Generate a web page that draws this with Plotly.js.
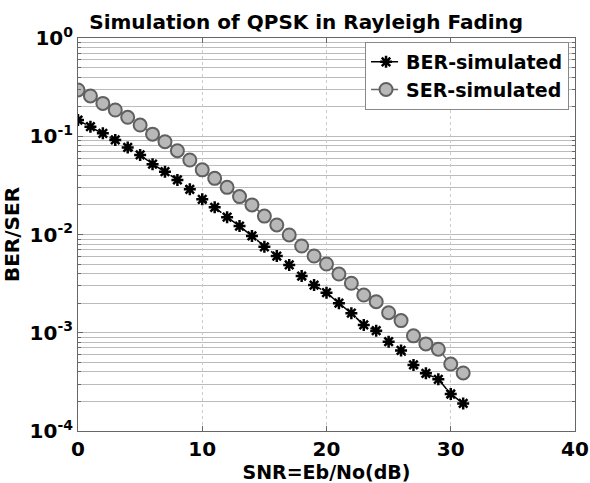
<!DOCTYPE html>
<html>
<head>
<meta charset="utf-8">
<script src="https://cdn.plot.ly/plotly-3.0.1.min.js"></script>
<style>html,body{margin:0;padding:0;background:#fff;}#chart{width:590px;height:483px;}</style>
</head>
<body>
<div id="chart"></div>
<script>
const snr = [0,1,2,3,4,5,6,7,8,9,10,11,12,13,14,15,16,17,18,19,20,21,22,23,24,25,26,27,28,29,30,31];
const berSimulated = [0.146,0.125,0.107,0.0916,0.077,0.0645,0.052,0.0436,0.0359,0.0288,0.0228,0.0189,0.0150,0.0122,0.00966,0.0075,0.00604,0.0049,0.00378,0.00306,0.00256,0.0020,0.00158,0.0012,0.00105,0.00081,0.00066,0.00047,0.000386,0.000336,0.000238,0.000191];
const serSimulated = [0.296,0.257,0.216,0.185,0.156,0.130,0.105,0.088,0.0713,0.0573,0.0455,0.0373,0.0302,0.0243,0.0200,0.0154,0.0125,0.00989,0.00764,0.00604,0.00501,0.00396,0.00319,0.00242,0.00207,0.0016,0.00133,0.00093,0.00077,0.00068,0.00048,0.00039];
const xTicks = [0,10,20,30,40];
const yMajor = [1e-4,1e-3,1e-2,1e-1,1];
const yMajorLabels = ['10<sup>-4</sup>','10<sup>-3</sup>','10<sup>-2</sup>','10<sup>-1</sup>','10<sup>0</sup>'];

const yMinor = [];
for (let e = -4; e < 0; e++) {
  for (let m = 2; m <= 9; m++) yMinor.push(m * Math.pow(10, e));
}

const fam = 'DejaVu Sans, Arial, sans-serif';
const f = (size) => ({family: fam, color: '#000', weight: 'bold', size: size});

const traces = [
  {
    x: snr, y: berSimulated, name: 'BER-simulated', type: 'scatter', mode: 'lines+markers',
    line: {color: '#000', width: 1.5, dash: 'dash'},
    marker: {symbol: 'asterisk-open', size: 10, color: '#000', line: {color: '#000', width: 2.5}}
  },
  {
    x: snr, y: serSimulated, name: 'SER-simulated', type: 'scatter', mode: 'lines+markers',
    line: {color: '#666', width: 1.5, dash: 'dash'},
    marker: {symbol: 'circle', size: 13, color: '#b8b8b8', line: {color: '#606060', width: 2}}
  }
];

const layout = {
  width: 590, height: 483,
  margin: {l: 78, r: 15, t: 38, b: 52},
  paper_bgcolor: '#fff', plot_bgcolor: '#fff',
  font: f(18),
  title: {text: 'Simulation of QPSK in Rayleigh Fading', xref: 'container', x: 0.519, xanchor: 'center',
          yref: 'container', y: 0.955, yanchor: 'middle', font: f(20)},
  showlegend: true,
  legend: {x: 0.988, y: 0.99, xanchor: 'right', yanchor: 'top', bgcolor: '#fff', bordercolor: '#888', borderwidth: 1,
           font: f(19), tracegroupgap: 0, itemwidth: 30},
  xaxis: {
    range: [0, 40], tickmode: 'array', tickvals: xTicks, ticktext: xTicks.map(String),
    showline: true, linecolor: '#666', linewidth: 1, mirror: 'ticks',
    ticks: 'inside', ticklen: 5, tickcolor: '#666',
    showgrid: true, gridcolor: '#ccc', griddash: 'dot', gridwidth: 1,
    zeroline: false, tickfont: f(20),
    title: {text: 'SNR=Eb/No(dB)', standoff: 6, font: f(19)}
  },
  yaxis: {
    type: 'log', range: [-4, 0], tickmode: 'array', tickvals: yMajor, ticktext: yMajorLabels,
    showline: true, linecolor: '#666', linewidth: 1, mirror: 'ticks',
    ticks: 'inside', ticklen: 5, tickcolor: '#666',
    showgrid: true, gridcolor: '#bbb', gridwidth: 1,
    minor: {tickmode: 'array', tickvals: yMinor, ticks: 'inside', ticklen: 3, tickcolor: '#666',
            showgrid: true, gridcolor: '#bbb', gridwidth: 1},
    zeroline: false, tickfont: f(20),
    title: {text: 'BER/SER', standoff: 6, font: f(20)}
  }
};

Plotly.newPlot('chart', traces, layout, {displayModeBar: false, staticPlot: true});
</script>
</body>
</html>
